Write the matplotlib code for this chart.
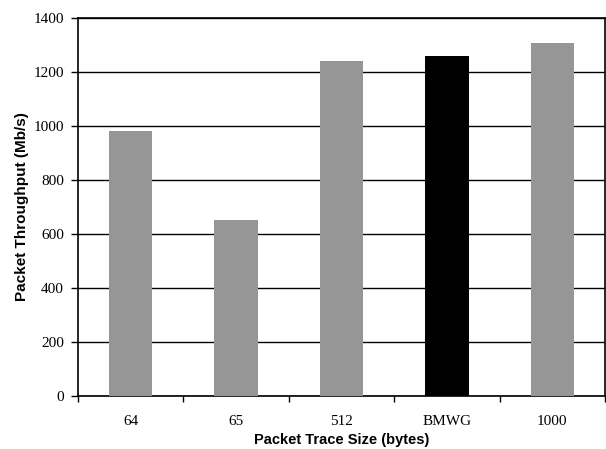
import matplotlib
matplotlib.use("Agg")
import matplotlib.pyplot as plt
import numpy as np

categories = ["64", "65", "512", "BMWG", "1000"]
throughput = [980, 652, 1240, 1260, 1308]
colors = ["#969696", "#969696", "#969696", "#000000", "#969696"]
yticks = [0, 200, 400, 600, 800, 1000, 1200, 1400]

fig = plt.figure(figsize=(6.06, 4.49), dpi=100)
ax = fig.add_axes([78/606, 1 - 396/449, (605-78)/606, (396-18)/449])

x = np.arange(len(categories))
ax.bar(x, throughput, width=0.41, color=colors, zorder=3)

ax.set_xlim(-0.5, len(categories) - 0.5)
ax.set_ylim(0, 1400)
ax.set_yticks(yticks)
ax.set_yticklabels([str(v) for v in yticks], fontfamily="Liberation Serif", fontsize=11)
ax.set_xticks(x)
ax.set_xticklabels(categories, fontfamily="Liberation Serif", fontsize=11)
ax.set_xticks(np.arange(len(categories) + 1) - 0.5, minor=True)
ax.tick_params(axis="x", which="major", length=0, pad=14)
ax.tick_params(axis="x", which="minor", length=4, width=1, direction="out")
ax.tick_params(axis="y", length=5, width=1, direction="out", pad=5)

ax.yaxis.grid(True, color="black", linewidth=1)
ax.set_axisbelow(True)
for s in ax.spines.values():
    s.set_color("black")
    s.set_linewidth(1.2)

ax.set_ylabel("Packet Throughput (Mb/s)", fontfamily="Liberation Sans", fontweight="bold", fontsize=11, labelpad=3)
ax.set_xlabel("Packet Trace Size (bytes)", fontfamily="Liberation Sans", fontweight="bold", fontsize=10.5, labelpad=3)

fig.savefig("out.png", dpi=100)
